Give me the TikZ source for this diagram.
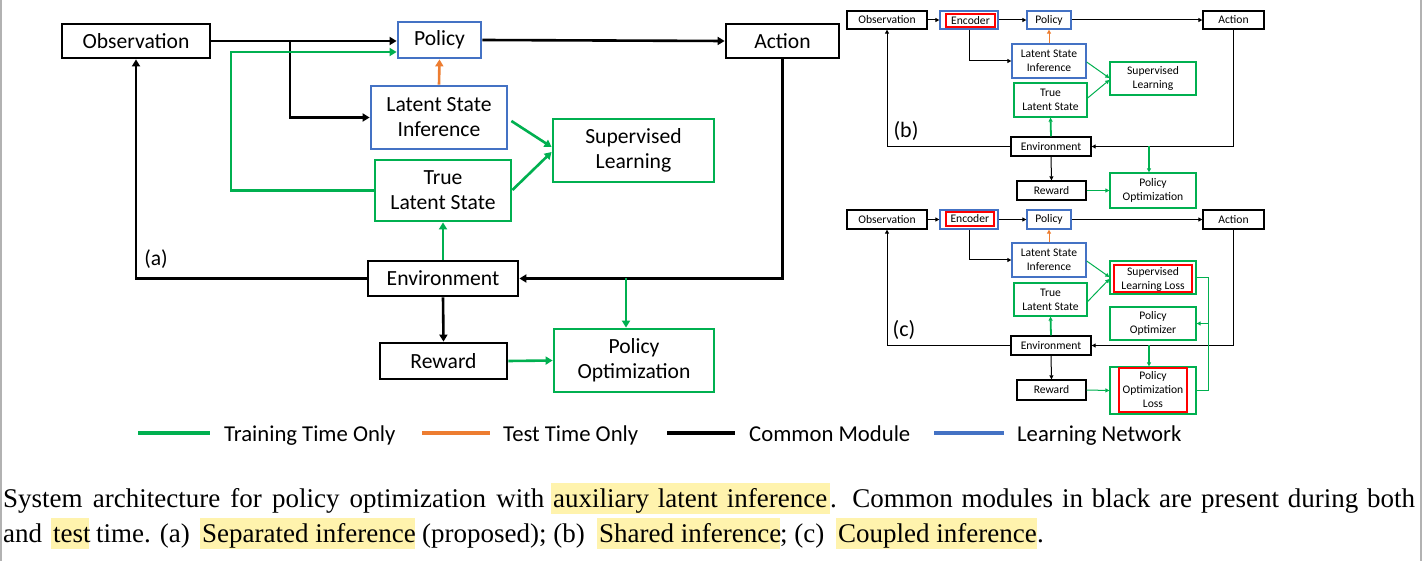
\documentclass[tikz,border=0pt]{standalone}
\usepackage{fontspec}
\setmainfont{Liberation Serif}
\newfontfamily\dgfont{Carlito}
\usetikzlibrary{arrows.meta,calc}
\definecolor{cgreen}{HTML}{00B050}
\definecolor{cblue}{HTML}{4472C4}
\definecolor{corange}{HTML}{ED7D31}
\definecolor{cred}{HTML}{FF0000}
\definecolor{hlyel}{RGB}{255,243,173}
\begin{document}
\begin{tikzpicture}[x=1pt,y=-1pt,
  wh/.style 2 args={minimum width=#1pt, minimum height=#2pt},
  big/.style={draw, line width=2.8pt, inner sep=0pt, align=center, font=\dgfont\fontsize{21.6}{25}\selectfont},
  bigk/.style={big, draw=black}, bigb/.style={big, draw=cblue}, bigg/.style={big, draw=cgreen},
  sm/.style={draw, line width=1.3pt, inner sep=0pt, align=center, font=\dgfont\fontsize{11.6}{14}\selectfont},
  smk/.style={sm, draw=black}, smb/.style={sm, draw=cblue}, smg/.style={sm, draw=cgreen},
  smr/.style={sm, draw=cred, line width=2pt},
  ak/.style={line width=2.6pt, -{Triangle[length=7pt,width=8pt]}},
  ag/.style={ak, cgreen}, ao/.style={ak, corange},
  sk/.style={line width=1pt, -{Triangle[length=4pt,width=4pt]}},
  sg/.style={sk, cgreen}, sgt/.style={sg, line width=1.8pt}, so/.style={sk, corange},
  lab/.style={font=\dgfont\fontsize{21.6}{25}\selectfont, inner sep=0pt},
  labs/.style={font=\dgfont\fontsize{22}{26}\selectfont, inner sep=0pt},
  leg/.style={font=\dgfont\fontsize{22.7}{26}\selectfont, inner sep=0pt, anchor=base west},
  legl/.style={line width=3.5pt},
  captxt/.style={font=\fontsize{27}{32}\selectfont, inner sep=0pt, anchor=base west},
  hl/.style={fill=hlyel}
]
\useasboundingbox (0,0) rectangle (1422,561);
\fill[white] (0,0) rectangle (1422,561);
\draw[black!30, line width=1.5pt] (1,0) -- (1,561);
\draw[black!30, line width=1.5pt] (1421,0) -- (1421,561);

% ---------------- (a) ----------------
\node[bigk, wh={148}{34}] (obs) at (136,41) {Observation};
\node[bigb, wh={83}{36}] (pol) at (439.5,40) {Policy};
\node[bigk, wh={113}{34}] (act) at (782.5,41) {Action};
\node[bigb, wh={136}{63}] (lsi) at (439,117.5) {Latent State\\Inference};
\node[bigg, wh={161}{63}] (sl) at (633.5,150.5) {Supervised\\Learning};
\node[bigg, wh={136}{61}] (tls) at (443,190.5) {True\\Latent State};
\node[bigk, wh={150}{35}] (env) at (443,278.5) {Environment};
\node[bigk, wh={127}{36}] (rew) at (443.5,361) {Reward};
\node[bigg, wh={160}{63}] (po) at (634,360.5) {Policy\\Optimization};
\node[lab] (la) at (156,259) {(a)};

\coordinate (br) at (290,41);
\coordinate (g1) at (231,52);
\coordinate (d1) at (626,278.5);
\draw[ak] (obs.east) -- (obs.east -| pol.west);
\draw[ak] (br) |- (lsi.west);
\draw[ag] (tls.west) -| (g1) -- (g1 -| pol.west);
\draw[ao] (lsi.north) -- (pol.south);
\draw[ak] (pol.east) -- (act.west);
\draw[ak] (act.south) |- (env.east);
\draw[ak] (env.west) -| (obs.south);
\draw[ag] (env.north) -- (tls.south);
\draw[ag] (d1) -- (d1 |- po.north);
\draw[ak] (env.south) -- (rew.north);
\draw[ag] (rew.east) -- (po.west);
\draw[ag] ([xshift=3pt,yshift=-3.5pt]lsi.east) -- ([yshift=3.5pt]sl.west);
\draw[ag] ([yshift=0.5pt]tls.east) -- ([yshift=-1.5pt]sl.west);

% ---------------- (b) ----------------
\node[smk, wh={80}{18}] (obsb) at (887,20) {Observation};
\node[smb, wh={58}{18}] (encbo) at (969,20) {};
\node[smr, wh={49}{12.5}] (encb) at (970.5,20.5) {Encoder};
\node[smb, wh={44}{18}] (polb) at (1049,20) {Policy};
\node[smk, wh={61}{18}] (actb) at (1233.5,20) {Action};
\node[smb, wh={74}{34}] (lsib) at (1049,61) {Latent State\\Inference};
\node[smg, wh={86}{33}] (slb) at (1153,78.5) {Supervised\\Learning};
\node[smg, wh={73}{34}] (tlsb) at (1050.5,100) {True\\Latent State};
\node[smk, wh={80}{19}] (envb) at (1051,146.5) {Environment};
\node[smk, wh={69}{19}] (rewb) at (1051.5,190.5) {Reward};
\node[smg, wh={86}{35}] (pob) at (1153,190.5) {Policy\\Optimization};
\node[labs] (lb) at (906,131) {(b)};

\coordinate (d2) at (1149,146.5);
\draw[sk] (obsb.east) -- (encbo.west);
\draw[sk] (encbo.east) -- (polb.west);
\draw[sk] (polb.east) -- (actb.west);
\draw[sk] (encbo.south) |- (lsib.west);
\draw[so] (lsib.north) -- (polb.south);
\draw[sg] ([yshift=-1pt]lsib.east) -- ([yshift=0.5pt]slb.west);
\draw[sg] ([yshift=2pt]tlsb.east) -- ([yshift=-1.5pt]slb.west);
\draw[sgt] (envb.north) -- (tlsb.south);
\draw[sk] (envb.west) -| (obsb.south);
\draw[sk] (actb.south) |- (envb.east);
\draw[sgt] (d2) -- (d2 |- pob.north);
\draw[sk] (envb.south) -- (rewb.north);
\draw[sgt] (rewb.east) -- (pob.west);

% ---------------- (c) ----------------
\node[smk, wh={80}{19}] (obsc) at (887,219.5) {Observation};
\node[smb, wh={58}{19}] (encco) at (969,219.5) {};
\node[smr, wh={48}{13.5}] (encc) at (969.8,218.8) {Encoder};
\node[smb, wh={44}{19}] (polc) at (1049,219.5) {Policy};
\node[smk, wh={61}{19}] (actc) at (1233.5,219.5) {Action};
\node[smb, wh={74}{34}] (lsic) at (1049,260) {Latent State\\Inference};
\node[smg, wh={86}{33}] (sllo) at (1153,277.5) {};
\node[smr, wh={78}{27}] (slli) at (1153,279) {Supervised\\Learning Loss};
\node[smg, wh={73}{33}] (tlsc) at (1050.5,299.5) {True\\Latent State};
\node[smg, wh={86}{33}] (poc) at (1153,323.5) {Policy\\Optimizer};
\node[smk, wh={80}{19}] (envc) at (1051,345.5) {Environment};
\node[smk, wh={69}{20}] (rewc) at (1051.5,390) {Reward};
\node[smg, wh={86}{47}] (polo) at (1153,390.5) {};
\node[smr, wh={68}{44}] (poli) at (1153,390) {Policy\\Optimization\\Loss};
\node[labs] (lc) at (904,330) {(c)};

\coordinate (d3) at (1149,345.5);
\coordinate (rc) at (1208,323.5);
\draw[sk] (obsc.east) -- (encco.west);
\draw[sk] (encco.east) -- (polc.west);
\draw[sk] (polc.east) -- (actc.west);
\draw[sk] (encco.south) |- (lsic.west);
\draw[so] (lsic.north) -- (polc.south);
\draw[sg] ([yshift=-1pt]lsic.east) -- ([yshift=0.5pt]sllo.west);
\draw[sg] ([yshift=-2pt]tlsc.east) -- ([yshift=-1.5pt]sllo.west);
\draw[sgt] (envc.north) -- (tlsc.south);
\draw[sk] (envc.west) -| (obsc.south);
\draw[sk] (actc.south) |- (envc.east);
\draw[sgt] (d3) -- (d3 |- polo.north);
\draw[sk] (envc.south) -- (rewc.north);
\draw[sg] (rewc.east) -- (polo.west);
\draw[cgreen, line width=1pt] (sllo.east) -| (rc) |- (polo.east);
\draw[sg] (rc) -- (poc.east);

% ---------------- legend ----------------
\coordinate (lg1) at (138,433);
\coordinate (lg2) at (210,433);
\coordinate (lo1) at (422,433);
\coordinate (lo2) at (490,433);
\coordinate (lk1) at (667,433);
\coordinate (lk2) at (735,433);
\coordinate (lb1) at (934,433);
\coordinate (lb2) at (1004,433);
\draw[legl, cgreen] (lg1) -- (lg2);
\draw[legl, corange] (lo1) -- (lo2);
\draw[legl, black] (lk1) -- (lk2);
\draw[legl, cblue] (lb1) -- (lb2);
\node[leg] (t1) at (224,441) {Training Time Only};
\node[leg] (t2) at (503,441) {Test Time Only};
\node[leg] (t3) at (749,441) {Common Module};
\node[leg] (t4) at (1017,441) {Learning Network};

% ---------------- caption ----------------
\fill[hl] (551,483) rectangle (830,514);
\fill[hl] (51,518) rectangle (89,549);
\fill[hl] (200,518) rectangle (415,549);
\fill[hl] (597,518) rectangle (780,549);
\fill[hl] (836,518) rectangle (1037,549);
\node[captxt] (c1) at (3,507) {\makebox[541pt][s]{System architecture for policy optimization with}};
\node[captxt] (c2) at (553,507) {\makebox[274pt][s]{auxiliary latent inference}};
\node[captxt] (c3) at (830,507) {\makebox[585pt][s]{. Common modules in black are present during both}};
\node[captxt] (c4) at (3,542) {and};
\node[captxt] (c5) at (53,542) {test};
\node[captxt] (c6) at (96,542) {time. (a)};
\node[captxt] (c7) at (202,542) {Separated inference};
\node[captxt] (c8) at (422,542) {(proposed); (b)};
\node[captxt] (c9) at (599,542) {Shared inference};
\node[captxt] (c10) at (780,542) {; (c)};
\node[captxt] (c11) at (838,542) {Coupled inference};
\node[captxt] (c12) at (1037,542) {.};
\end{tikzpicture}
\end{document}
